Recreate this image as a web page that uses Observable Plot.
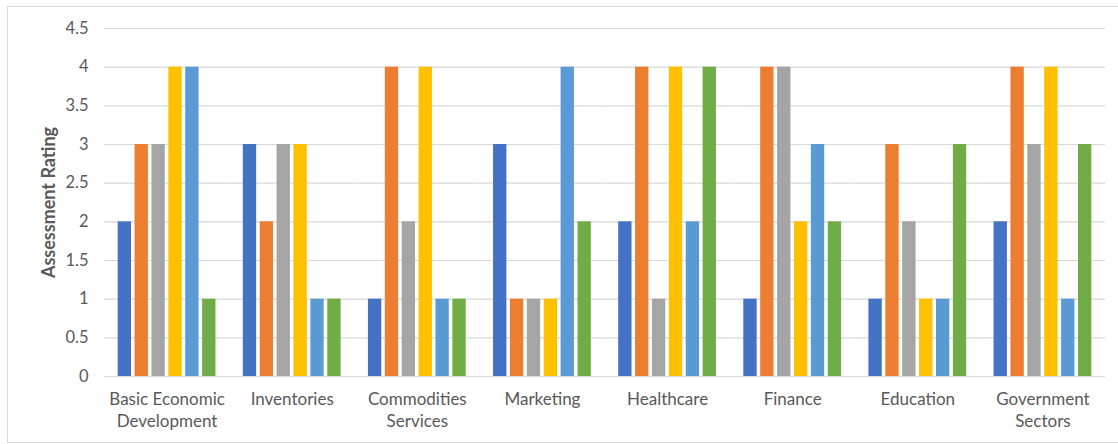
<!DOCTYPE html>
<html>
<head>
<meta charset="utf-8">
<script src="https://cdn.jsdelivr.net/npm/d3@7"></script>
<script src="https://cdn.jsdelivr.net/npm/@observablehq/plot@0.6"></script>
<style>
  html, body { margin: 0; padding: 0; background: #fff; }
  #frame {
    position: absolute; left: 7px; top: 6px; width: 1111px; height: 435px;
    border-top: 1px solid #d9d9d9; border-left: 1px solid #d9d9d9; border-bottom: 1px solid #d9d9d9;
    overflow: hidden;
  }
</style>
</head>
<body>
<div id="frame"></div>
<script>
const categories = ["Basic Economic\nDevelopment", "Inventories", "Commodities\nServices", "Marketing", "Healthcare", "Finance", "Education", "Government\nSectors"];
const seriesNames = ["Series 1", "Series 2", "Series 3", "Series 4", "Series 5", "Series 6"];
const seriesColors = ["#4472C4", "#ED7D31", "#A5A5A5", "#FFC000", "#5B9BD5", "#70AD47"];
const series1 = [2, 3, 1, 3, 2, 1, 1, 2];
const series2 = [3, 2, 4, 1, 4, 4, 3, 4];
const series3 = [3, 3, 2, 1, 1, 4, 2, 3];
const series4 = [4, 3, 4, 1, 4, 2, 1, 4];
const series5 = [4, 1, 1, 4, 2, 3, 1, 1];
const series6 = [1, 1, 1, 2, 4, 2, 3, 3];
const yTicks = [0, 0.5, 1, 1.5, 2, 2.5, 3, 3.5, 4, 4.5];
const yLabel = "Assessment Rating";

const allSeries = [series1, series2, series3, series4, series5, series6];
const data = [];
categories.forEach((c, i) => {
  allSeries.forEach((s, j) => data.push({category: c, series: seriesNames[j], value: s[i]}));
});

const chart = Plot.plot({
  width: 1110,
  height: 435,
  marginLeft: 96,
  marginRight: 13,
  marginTop: 21,
  marginBottom: 66,
  style: { fontFamily: "Lato, 'Open Sans', sans-serif", fontSize: "16px", color: "#595959", background: "#fff" },
  fx: { domain: categories, padding: 0, round: false, label: null },
  x: { domain: seriesNames, paddingInner: 0.21, paddingOuter: 0.81, round: false, axis: null },
  y: { domain: [0, 4.5], ticks: yTicks, label: null },
  color: { domain: seriesNames, range: seriesColors },
  marks: [
    Plot.ruleY(yTicks, { stroke: "#d9d9d9", strokeWidth: 1.2, strokeOpacity: 1 }),
    Plot.barY(data, { fx: "category", x: "series", y: "value", fill: "series" }),
    Plot.axisY({ ticks: yTicks, tickSize: 0, tickPadding: 16, label: null, fontSize: 16.5, fill: "#595959", tickFormat: d => String(d) }),
    Plot.axisY({ ticks: [], tickSize: 0, label: yLabel, labelAnchor: "center", labelArrow: "none", labelOffset: 62, fontWeight: "bold", fontSize: 18, fill: "#595959" }),
    Plot.axisFx({ anchor: "bottom", tickSize: 0, tickPadding: 13, label: null, fontSize: 17, fill: "#595959", lineHeight: 1.3, tickFormat: d => d })
  ]
});
document.getElementById("frame").appendChild(chart);
</script>
</body>
</html>
